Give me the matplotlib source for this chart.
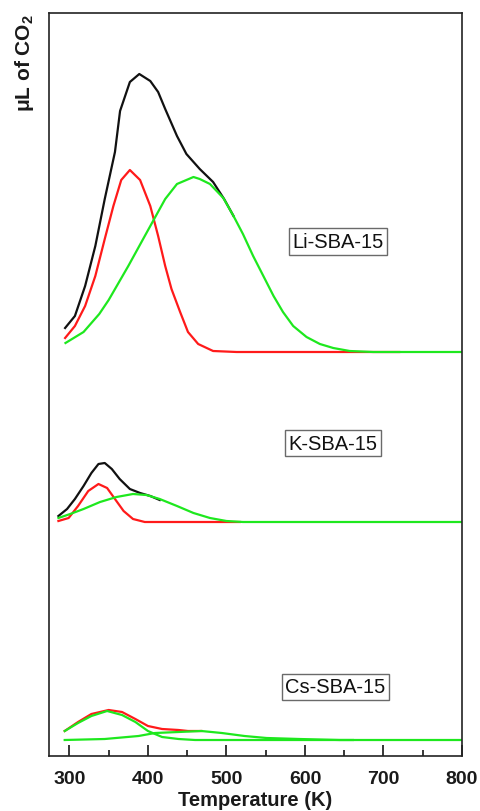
import numpy as np, matplotlib
matplotlib.use('Agg'); import matplotlib.pyplot as plt

plt.rcParams['font.family'] = ['Liberation Sans', 'DejaVu Sans']
plt.rcParams['mathtext.fontset'] = 'custom'
plt.rcParams['mathtext.bf'] = 'Liberation Sans:bold'
plt.rcParams['mathtext.rm'] = 'Liberation Sans:bold'

# CO2 desorption (a.u.), each sample stacked on its own baseline
offsets = {'Li': 404, 'K': 234, 'Cs': 16}

# Li-SBA-15
li_tot_T = [294.5, 307, 320, 333, 345, 358, 364.5, 377, 389, 403, 413, 422, 437, 449, 466, 483, 497, 509]
li_tot   = [24, 36, 66, 106, 153, 200, 241, 270, 278, 271, 260, 243, 216, 198, 183, 170, 153, 136]
li_p1_T  = [294.5, 307, 320, 333, 345, 356, 366, 377, 390, 403, 413, 422, 430, 441, 451, 464, 483, 513, 600, 720]
li_p1    = [14, 26, 46, 76, 113, 146, 172, 182, 172, 146, 116, 86, 63, 40, 20, 8, 1, 0, 0, 0]
li_p2_T  = [295, 318, 338, 350, 375, 396, 422, 437, 458, 466, 479, 496, 509, 521, 534, 547, 560, 572,
            585, 602, 619, 636, 657, 687, 800]
li_p2    = [9, 20, 38, 52, 86, 116, 153, 168, 175, 173, 168, 154, 136, 118, 96, 76, 56, 40,
            26, 15, 8, 4, 1, 0, 0]

# K-SBA-15
k_tot_T = [286, 297, 307, 318, 328, 337, 345, 354, 364, 377, 390, 403, 415]
k_tot   = [6, 13, 23, 36, 49, 58, 59, 53, 43, 33, 29, 26, 22]
k_p1_T  = [286, 299, 311, 324, 337, 348, 358, 369, 381, 396, 450, 517]
k_p1    = [1, 4, 16, 31, 38, 34, 23, 11, 3, 0, 0, 0]
k_p2_T  = [286, 301, 318, 339, 360, 381, 398, 415, 437, 458, 479, 500, 521, 800]
k_p2    = [4, 8, 13, 20, 25, 28, 27, 23, 16, 9, 4, 1, 0, 0]

# Cs-SBA-15
cs_tot_T = [294, 311, 328, 350, 367, 384, 400, 418, 439, 451, 468]
cs_tot   = [9, 18, 26, 30, 28, 21, 14, 11, 10, 9, 9]
cs_p1_T  = [294, 311, 328, 348, 367, 384, 400, 418, 439, 460, 661]
cs_p1    = [9, 17, 24, 29, 25, 18, 9, 3, 1, 0, 0]
cs_p2_T  = [294, 345, 388, 409, 439, 468, 494, 523, 551, 593, 644, 800]
cs_p2    = [0, 1, 4, 7, 8, 9, 7, 4, 2, 1, 0, 0]

BLACK, RED, GREEN = '#111111', '#ff1a1a', '#1ee81e'
lw = 1.6

fig = plt.figure(figsize=(4.8, 8.12), dpi=100)
ax = fig.add_axes([49/480, 1-757/812, 413/480, 743/812])

o = offsets['Li']
ax.plot(li_tot_T, np.array(li_tot)+o, color=BLACK, lw=lw)
ax.plot(li_p1_T, np.array(li_p1)+o, color=RED, lw=lw)
ax.plot(li_p2_T, np.array(li_p2)+o, color=GREEN, lw=lw)

o = offsets['K']
ax.plot(k_tot_T, np.array(k_tot)+o, color=BLACK, lw=lw)
ax.plot(k_p1_T, np.array(k_p1)+o, color=RED, lw=lw)
ax.plot(k_p2_T, np.array(k_p2)+o, color=GREEN, lw=lw)

o = offsets['Cs']
ax.plot(cs_tot_T, np.array(cs_tot)+o, color=RED, lw=lw)
ax.plot(cs_p1_T, np.array(cs_p1)+o, color=GREEN, lw=lw)
ax.plot(cs_p2_T, np.array(cs_p2)+o, color=GREEN, lw=lw)

box = dict(boxstyle='square,pad=0.18', fc='white', ec='#6a6a6a', lw=1)
for name, (fx, fy) in [('Li-SBA-15', (0.700, 0.6925)), ('K-SBA-15', (0.688, 0.421)), ('Cs-SBA-15', (0.694, 0.093))]:
    ax.text(fx, fy, name, transform=ax.transAxes, ha='center', va='center', fontsize=14.5, color='#111', bbox=box)

ax.set_xlim(274, 800); ax.set_ylim(0, 743)
ax.set_xticks([300, 400, 500, 600, 700, 800])
ax.set_xticks(np.arange(350, 800, 100), minor=True)
ax.set_yticks([])
ax.tick_params(axis='x', which='major', direction='in', length=8, width=1.1, pad=10, labelsize=14)
ax.tick_params(axis='x', which='minor', direction='in', length=4.5, width=1.1)
for lab in ax.get_xticklabels():
    lab.set_fontweight('bold'); lab.set_color('#1a1a1a')
for s in ax.spines.values():
    s.set_linewidth(1.2); s.set_color('#222')
ax.set_xlabel('Temperature (K)', fontsize=14.5, fontweight='bold', labelpad=2, color='#1a1a1a')
fig.text(25/480, 1-14/812, r'$\mathbf{\mu}$L of CO$_{\mathbf{2}}$', rotation=90, ha='center', va='top',
         fontsize=15, fontweight='bold', color='#1a1a1a')

plt.savefig('out.png', dpi=100)
